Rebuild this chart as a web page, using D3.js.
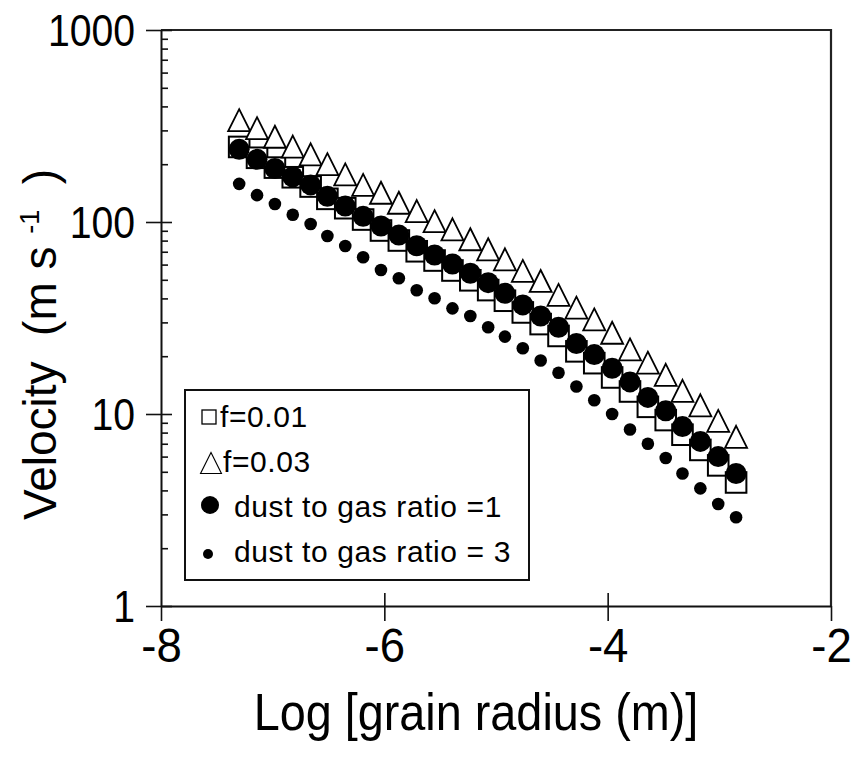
<!DOCTYPE html>
<html>
<head>
<meta charset="utf-8">
<script src="https://cdn.jsdelivr.net/npm/d3@7"></script>
<style>
  html, body { margin: 0; padding: 0; background: #fff; }
  svg { display: block; font-family: "Liberation Sans", Arial, sans-serif; }
</style>
</head>
<body>
<svg id="chart" width="854" height="758"></svg>
<script>
// log10 of grain radius (m)
const logRadius = [-7.30, -7.14, -6.98, -6.82, -6.66, -6.51, -6.35, -6.19, -6.03, -5.87,
                   -5.71, -5.55, -5.39, -5.23, -5.07, -4.92, -4.76, -4.60, -4.44, -4.28,
                   -4.12, -3.96, -3.80, -3.64, -3.48, -3.33, -3.17, -3.01, -2.85];

// velocity (m/s) for each case
const velF001 = [246, 216, 192, 171, 153, 132, 118, 103, 90.3, 80.1,
                 70.4, 63.0, 55.9, 49.7, 44.2, 38.9, 33.8, 29.4, 25.5, 21.2,
                 18.4, 15.5, 13.1, 10.9, 9.3, 7.8, 6.5, 5.4, 4.4];
const velF003 = [339, 308, 278, 247, 225, 200, 177, 156, 142, 126,
                 114, 101, 91.6, 81.3, 72.1, 63.9, 55.6, 49.3, 41.7, 35.8,
                 31.1, 26.5, 21.7, 18.5, 16.0, 13.2, 11.1, 9.2, 7.6];
const velDust1 = [239, 212, 190, 172, 156, 136, 121, 107, 95.3, 85.5,
                  75.2, 67.3, 60.4, 54.1, 48.3, 42.5, 37.0, 32.4, 28.3, 23.3,
                  20.4, 17.3, 14.7, 12.2, 10.4, 8.6, 7.2, 6.0, 4.9];
const velDust3 = [158, 138, 124, 109, 97.6, 84.6, 75.0, 65.5, 56.2, 50.9,
                  44.1, 40.1, 35.5, 32.4, 28.3, 25.3, 22.0, 19.0, 16.4, 13.9,
                  11.8, 10.0, 8.3, 7.0, 5.9, 4.9, 4.1, 3.4, 2.9];

const xTickValues = [-8, -6, -4, -2];
const yTickValues = [1, 10, 100, 1000];
const legendLabels = ["f=0.01", "f=0.03", "dust to gas ratio =1", "dust to gas ratio = 3"];

const svg = d3.select("#chart");
const pLeft = 161, pRight = 831, pTop = 30, pBottom = 606;

const x = d3.scaleLinear().domain([-8, -2]).range([pLeft, pRight]);
const y = d3.scaleLog().domain([1, 1000]).range([pBottom, pTop]);

// frame: top and right borders
svg.append("path")
  .attr("d", `M${pLeft},${pTop}H${pRight}V${pBottom}`)
  .attr("fill", "none").attr("stroke", "#222").attr("stroke-width", 2.2);

// minor y ticks (inside)
const minor = [];
for (let d = 1; d < 1000; d *= 10) for (let k = 2; k <= 9; k++) minor.push(d * k);
svg.append("g").attr("transform", `translate(${pLeft},0)`)
  .call(d3.axisRight(y).tickValues(minor).tickSize(7).tickFormat(""))
  .call(g => g.select(".domain").remove())
  .call(g => g.selectAll("line").attr("stroke", "#111").attr("stroke-width", 1.6));

// major y ticks, inner part
svg.append("g").attr("transform", `translate(${pLeft},0)`)
  .call(d3.axisRight(y).tickValues(yTickValues).tickSize(11).tickFormat(""))
  .call(g => g.select(".domain").remove())
  .call(g => g.selectAll("line").attr("stroke", "#111").attr("stroke-width", 1.6));

// left axis with outward ticks and labels
const ySx = 0.89;
svg.append("g").attr("transform", `translate(${pLeft},0)`)
  .call(d3.axisLeft(y).tickValues(yTickValues).tickSize(15).tickPadding(11)
        .tickFormat(d => String(d)).tickSizeOuter(0))
  .call(g => g.select(".domain").attr("stroke", "#111").attr("stroke-width", 2))
  .call(g => g.selectAll("line").attr("stroke", "#111").attr("stroke-width", 1.6))
  .call(g => g.selectAll("text").attr("font-size", 44).attr("fill", "#000")
        .attr("font-family", "Liberation Sans, Arial, sans-serif")
        .attr("x", -26 / ySx).attr("dy", "0.35em")
        .attr("transform", `scale(${ySx},1)`));

// x major ticks, inner part
svg.append("g").attr("transform", `translate(0,${pBottom})`)
  .call(d3.axisTop(x).tickValues(xTickValues.slice(1, 3)).tickSize(13).tickFormat(""))
  .call(g => g.select(".domain").remove())
  .call(g => g.selectAll("line").attr("stroke", "#111").attr("stroke-width", 1.6));

// bottom axis
svg.append("g").attr("transform", `translate(0,${pBottom})`)
  .call(d3.axisBottom(x).tickValues(xTickValues).tickSize(15).tickPadding(7)
        .tickFormat(d => String(d)).tickSizeOuter(0))
  .call(g => g.select(".domain").attr("stroke", "#111").attr("stroke-width", 2))
  .call(g => g.selectAll("line").attr("stroke", "#111").attr("stroke-width", 1.6))
  .call(g => g.selectAll("text").attr("font-size", 48).attr("fill", "#000")
        .attr("font-family", "Liberation Sans, Arial, sans-serif")
        .attr("transform", "scale(0.95,1)"));

// axis titles
svg.append("text")
  .attr("transform", "translate(476,730) scale(0.9,1)")
  .attr("text-anchor", "middle").attr("font-size", 52)
  .text("Log [grain radius (m)]");

const yt = svg.append("text")
  .attr("transform", "translate(56,520) rotate(-90)")
  .attr("font-size", 46).style("white-space", "pre");
yt.append("tspan").text("Velocity  (m s ");
yt.append("tspan").attr("font-size", 27).attr("dy", -17).text("-1");
yt.append("tspan").attr("dy", 17).text("  )");

// marker shapes
const tri = (s) => `M0,${-s}L${s},${s}L${-s},${s}Z`;

const plot = svg.append("g");

// f=0.01 : open squares
plot.selectAll("rect.sq").data(logRadius).join("rect")
  .attr("class", "sq")
  .attr("x", d => x(d) - 10.3).attr("y", (d, i) => y(velF001[i]) - 10.3)
  .attr("width", 20.6).attr("height", 20.6)
  .attr("fill", "#fff").attr("stroke", "#000").attr("stroke-width", 2);

// f=0.03 : open triangles
plot.selectAll("path.tr").data(logRadius).join("path")
  .attr("class", "tr")
  .attr("transform", (d, i) => `translate(${x(d)},${y(velF003[i])})`)
  .attr("d", tri(11))
  .attr("fill", "#fff").attr("stroke", "#000").attr("stroke-width", 1.8);

// dust to gas ratio = 1 : filled circles
plot.selectAll("circle.c1").data(logRadius).join("circle")
  .attr("class", "c1")
  .attr("cx", d => x(d)).attr("cy", (d, i) => y(velDust1[i]))
  .attr("r", 10.5).attr("fill", "#000");

// dust to gas ratio = 3 : small filled dots
plot.selectAll("circle.c3").data(logRadius).join("circle")
  .attr("class", "c3")
  .attr("cx", d => x(d)).attr("cy", (d, i) => y(velDust3[i]))
  .attr("r", 6.3).attr("fill", "#000");

// legend
const lg = svg.append("g");
lg.append("rect").attr("x", 185).attr("y", 390).attr("width", 344).attr("height", 190)
  .attr("fill", "#fff").attr("stroke", "#111").attr("stroke-width", 2);

const rowY = [427, 472, 517, 562];
lg.append("rect").attr("x", 202).attr("y", 410).attr("width", 14).attr("height", 14)
  .attr("fill", "#fff").attr("stroke", "#000").attr("stroke-width", 1.3);
lg.append("path").attr("transform", "translate(211,463) scale(0.95)").attr("d", tri(11))
  .attr("fill", "#fff").attr("stroke", "#000").attr("stroke-width", 1.2);
lg.append("circle").attr("cx", 210).attr("cy", 505).attr("r", 9).attr("fill", "#000");
lg.append("circle").attr("cx", 208).attr("cy", 554).attr("r", 5).attr("fill", "#000");

const textX = [220, 223, 234, 234];
lg.selectAll("text").data(legendLabels).join("text")
  .attr("x", (d, i) => textX[i]).attr("y", (d, i) => rowY[i])
  .attr("font-size", 30).attr("letter-spacing", 0.6).attr("fill", "#000")
  .text(d => d);
</script>
</body>
</html>
